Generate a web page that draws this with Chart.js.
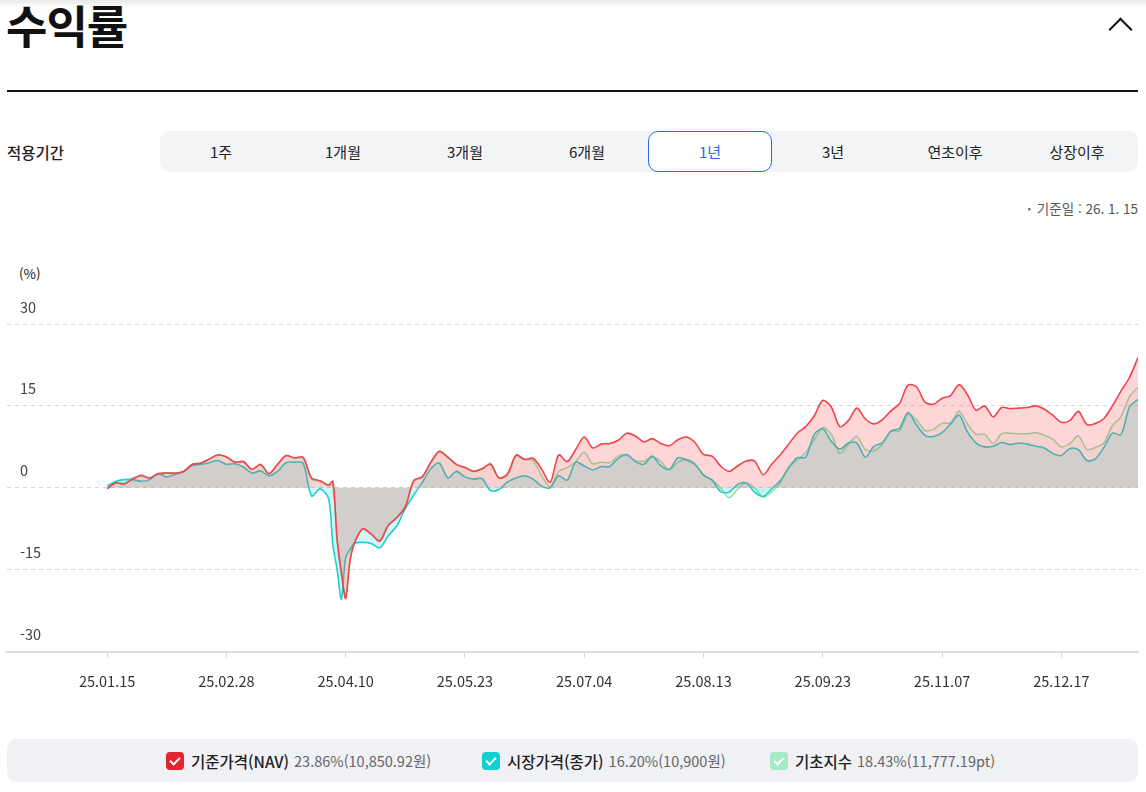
<!DOCTYPE html>
<html lang="ko">
<head>
<meta charset="utf-8">
<script src="https://cdn.jsdelivr.net/npm/chart.js@4.4.1/dist/chart.umd.min.js"></script>
<style>
  html,body{margin:0;padding:0;}
  body{width:1146px;height:792px;overflow:hidden;background:#fff;position:relative;
       font-family:"Noto Sans CJK KR","Noto Sans",sans-serif;color:#111;}
  .shade{position:absolute;left:0;top:0;width:1146px;height:8px;background:linear-gradient(#e9e9e9,#fff);}
  .title{position:absolute;left:6px;top:-7px;margin:0;font-size:45px;font-weight:700;letter-spacing:-1px;line-height:64px;}
  .chev{position:absolute;left:1112px;top:21px;width:15px;height:15px;border-left:2px solid #111;border-top:2px solid #111;transform:rotate(45deg);}
  .rule{position:absolute;left:7px;top:90px;width:1131px;height:2px;background:#111;}
  .period{position:absolute;left:7px;top:141px;font-size:15.5px;font-weight:500;line-height:22px;color:#222;}
  .tabs{position:absolute;left:160px;top:131px;width:978px;height:41px;background:#f3f4f6;border-radius:10px;display:flex;}
  .tab{flex:1;text-align:center;line-height:41px;font-size:15px;color:#222;box-sizing:border-box;}
  .tab.on{background:#fff;border:1px solid #2f66f0;border-radius:10px;color:#2f66f0;line-height:39px;}
  .base{position:absolute;right:8px;top:199px;font-size:13.5px;color:#555;line-height:18px;}
  .base .dot{font-size:9px;margin-right:6px;vertical-align:2px;}
  .unit{position:absolute;left:19px;top:263px;font-size:13.5px;color:#222;line-height:20px;}
  .wrap{position:absolute;left:0;top:290px;width:1146px;height:415px;}
  .legend{position:absolute;left:7px;top:739px;width:1131px;height:43px;background:#f0f1f5;border-radius:10px;}
  .item{position:absolute;top:12px;height:19px;display:flex;align-items:center;white-space:nowrap;}
  .box{width:18px;height:18px;border-radius:4px;margin-right:7px;position:relative;}
  .box::after{content:"";position:absolute;left:6px;top:3px;width:4px;height:8px;border-right:2px solid #fff;border-bottom:2px solid #fff;transform:rotate(45deg);}
  .lbl{font-size:15.5px;color:#222;font-weight:500;}
  .val{font-size:14.5px;color:#666;margin-left:5px;}
</style>
</head>
<body>
<div class="shade"></div>
<h1 class="title">수익률</h1>
<div class="chev"></div>
<div class="rule"></div>
<div class="period">적용기간</div>
<div class="tabs">
  <div class="tab">1주</div><div class="tab">1개월</div><div class="tab">3개월</div><div class="tab">6개월</div>
  <div class="tab on">1년</div><div class="tab">3년</div><div class="tab">연초이후</div><div class="tab">상장이후</div>
</div>
<div class="base"><span class="dot">•</span>기준일 : 26. 1. 15</div>
<div class="unit">(%)</div>
<div class="wrap"><canvas id="c" width="1146" height="415"></canvas></div>
<div class="legend">
  <div class="item" style="left:159px"><div class="box" style="background:#e3262d"></div><span class="lbl">기준가격(NAV)</span><span class="val">23.86%(10,850.92원)</span></div>
  <div class="item" style="left:475px"><div class="box" style="background:#14cfd0"></div><span class="lbl">시장가격(종가)</span><span class="val">16.20%(10,900원)</span></div>
  <div class="item" style="left:763px"><div class="box" style="background:#a3ebc4"></div><span class="lbl">기초지수</span><span class="val">18.43%(11,777.19pt)</span></div>
</div>
<script>
// trading-day index of each sampled point (0 = 25.01.15)
const dayIndex = [0,2,4,6,8,10,12,14,16,18,20,22,24,26,28,30,32,34,36,38,40,42,44,46,48,50,52,
  53,54,55,56,57,58,
  60,62,64,66,68,70,72,74,76,78,80,82,84,86,88,90,92,94,96,98,100,102,104,106,108,110,112,114,116,118,120,
  122,124,126,128,130,132,134,136,138,140,142,144,146,148,150,152,154,156,158,160,162,164,166,168,170,172,174,176,178,180,182,
  184,186,188,190,192,194,196,198,200,202,204,206,208,210,212,214,216,218,220,222,224,226,228,230,232,234,236,238,240,242];

const navReturn = [-0.2,0.9,0.7,1.6,2.3,1.8,2.6,2.7,2.7,3.0,4.3,4.5,5.3,6.0,5.7,4.7,4.8,3.4,4.3,2.6,4.3,5.9,5.5,5.6,1.8,1.3,0.5,
  1.2,-9.5,-15.5,-20.3,-13.5,-10.3,
  -7.5,-8.5,-9.8,-6.9,-5.5,-3.5,1.3,2.0,4.7,6.7,5.6,4.3,3.7,3.0,3.5,4.3,1.8,2.6,6.0,5.2,5.4,3.4,1.0,6.0,4.8,7.0,9.3,7.3,8.0,8.1,8.7,
  10.0,9.5,8.4,9.0,8.1,7.7,8.8,9.3,8.3,6.1,5.8,4.0,3.0,4.0,4.9,4.9,2.4,4.3,6.0,8.0,10.0,11.2,13.2,16.0,14.8,11.2,12.3,14.6,12.6,11.7,12.5,
  14.1,15.4,18.8,18.5,15.7,15.3,16.4,16.9,18.9,17.0,14.2,15.0,13.0,14.7,14.5,14.6,14.7,15.0,14.4,13.3,12.0,12.3,14.0,11.6,11.8,12.7,15.0,17.7,20.2,23.86];

const marketReturn = [0.3,1.2,1.5,1.5,1.2,1.5,2.6,2.0,2.5,3.0,4.1,4.3,4.6,5.0,4.3,4.4,3.8,2.7,3.1,2.2,3.0,4.6,4.7,4.5,-1.5,-0.2,-2.0,
  -10.5,-15.0,-20.4,-12.8,-11.3,-10.2,
  -10.0,-10.2,-11.0,-8.8,-7.0,-3.8,-1.3,1.0,3.5,4.5,1.8,3.0,2.0,1.6,1.7,-0.5,-0.3,1.1,1.8,2.2,1.6,0.3,0.0,2.2,1.4,4.7,4.0,3.3,3.9,3.9,5.4,
  6.1,4.8,4.3,5.8,4.0,3.4,5.5,5.1,4.3,2.3,1.4,-0.7,-0.8,0.6,0.9,-0.8,-1.6,-0.2,1.3,3.6,5.5,5.6,9.8,10.8,8.5,7.1,8.2,8.2,5.6,7.6,8.3,
  10.4,10.9,13.8,11.5,9.6,9.4,10.1,11.7,13.3,10.2,8.2,7.5,7.6,8.3,7.9,8.2,8.0,7.6,7.3,6.3,5.9,7.2,7.0,5.0,5.3,7.4,10.0,9.7,14.8,16.2];

const indexReturn = [0.0,1.0,0.9,1.8,2.1,1.7,2.5,2.8,2.6,3.1,4.2,4.6,5.2,6.1,5.6,4.6,4.7,3.3,4.2,2.5,4.2,5.8,5.4,5.4,1.6,1.2,0.4,
  0.5,-9.8,-16.0,-19.8,-13.2,-10.2,
  -7.6,-8.4,-9.6,-6.8,-5.4,-3.4,1.2,2.1,4.6,6.5,5.5,4.2,3.8,3.1,3.4,4.5,1.8,2.2,5.8,5.2,5.0,2.2,0.2,3.0,3.7,4.8,6.5,4.4,4.7,4.6,5.8,
  6.0,5.0,4.9,5.7,4.8,3.3,4.7,5.2,4.4,2.4,1.5,0.0,-1.8,-0.3,0.9,0.0,-1.7,-0.8,0.9,3.8,5.0,6.5,8.8,11.0,9.8,6.3,8.0,9.4,7.0,6.8,8.0,
  10.4,10.4,13.5,12.5,10.5,10.7,11.8,11.9,14.0,11.6,9.8,9.8,8.1,9.9,10.0,9.9,9.9,10.1,9.6,8.9,7.5,8.1,9.5,7.0,7.4,8.2,11.4,13.0,16.7,18.43];

const tickIdx = [0,28,56,84,112,140,168,196,224];
const tickLabels = ['25.01.15','25.02.28','25.04.10','25.05.23','25.07.04','25.08.13','25.09.23','25.11.07','25.12.17'];
const yTicks = [-30,-15,0,15,30];

const pts = arr => arr.map((v,i)=>({x:dayIndex[i], y:v}));
const FONT = '"Noto Sans CJK KR","Noto Sans",sans-serif';

new Chart(document.getElementById('c'), {
  type:'line',
  data:{datasets:[
    {label:'기준가격(NAV)', data:pts(navReturn), borderColor:'#f2434c', backgroundColor:'rgba(250,70,75,0.22)', fill:'origin', borderWidth:1.6},
    {label:'시장가격(종가)', data:pts(marketReturn), borderColor:'#1fcfd0', backgroundColor:'rgba(20,215,215,0.2)', fill:'origin', borderWidth:1.6},
    {label:'기초지수', data:pts(indexReturn), borderColor:'#96e2ad', backgroundColor:'rgba(150,225,175,0.12)', fill:'origin', borderWidth:1.6}
  ]},
  options:{
    responsive:false, animation:false,
    layout:{padding:{top:34,left:7,right:8,bottom:0}},
    elements:{point:{radius:0}, line:{tension:0.3}},
    plugins:{legend:{display:false}, tooltip:{enabled:false}},
    scales:{
      x:{type:'linear', min:-23.5, max:242,
         afterBuildTicks:s=>{ s.ticks = tickIdx.map(v=>({value:v})); },
         ticks:{autoSkip:false, maxRotation:0, padding:15, color:'#333', font:{family:FONT,size:14.5},
                callback:v=>{ const k = tickIdx.indexOf(v); return k>=0 ? tickLabels[k] : ''; }},
         grid:{drawOnChartArea:false, drawTicks:true, tickLength:6, color:'#d4d4d4'},
         border:{display:true, color:'#dcdcdc', width:2}},
      y:{min:-30, max:30,
         afterBuildTicks:s=>{ s.ticks = yTicks.map(v=>({value:v})); },
         afterFit:s=>{ s.width = 0; },
         ticks:{mirror:true, padding:13, labelOffset:-17, color:'#444', font:{family:FONT,size:14.5}},
         grid:{color:'#d6d6d6', drawTicks:false, lineWidth:1},
         border:{display:false, dash:[4,4]}}
    }
  }
});
</script>
</body>
</html>
